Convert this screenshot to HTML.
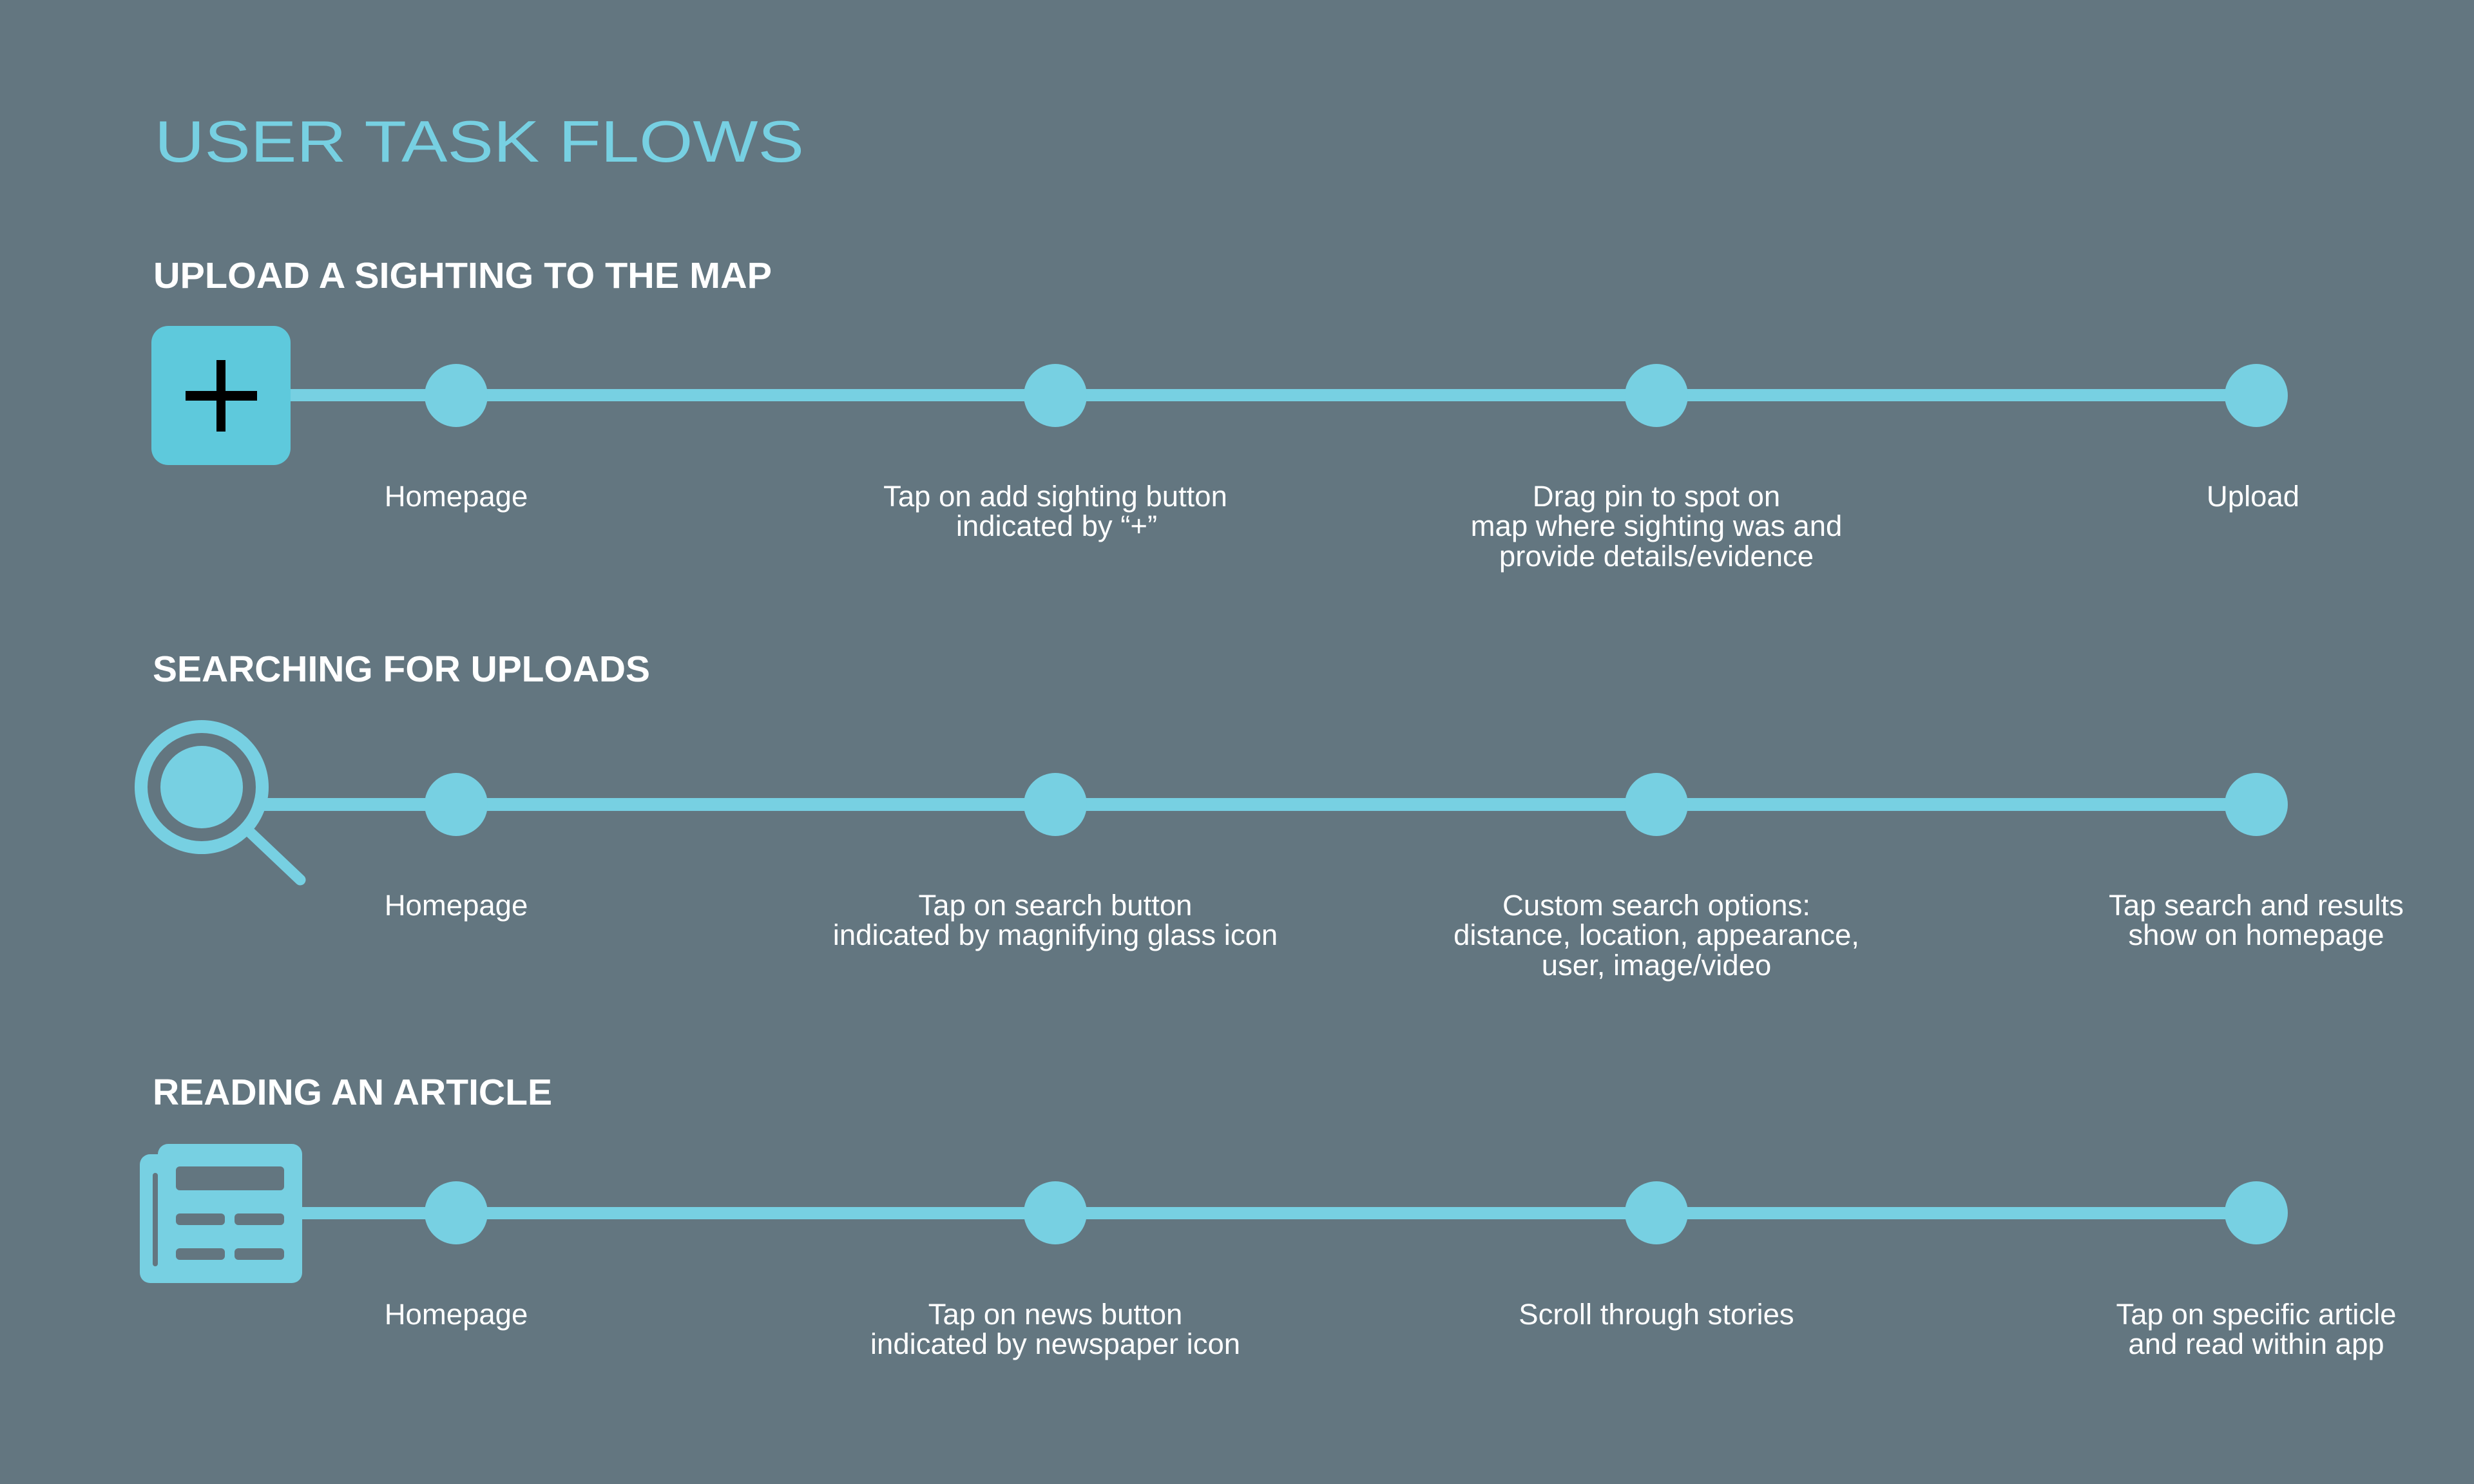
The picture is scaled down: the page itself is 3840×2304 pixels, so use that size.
<!DOCTYPE html>
<html><head><meta charset="utf-8"><style>
html,body{margin:0;padding:0;background:#637680;}
svg{display:block}
</style></head><body>
<svg width="3840" height="2304" viewBox="0 0 3840 2304" xmlns="http://www.w3.org/2000/svg">
<rect width="3840" height="2304" fill="#637680"/>
<text x="240" y="251" font-family="Liberation Sans, sans-serif" font-size="91" fill="#77d0e2" textLength="1008" lengthAdjust="spacingAndGlyphs">USER TASK FLOWS</text>

<g font-family="Liberation Sans, sans-serif" font-weight="bold" font-size="57" fill="#ffffff">
<text x="238" y="447" textLength="960" lengthAdjust="spacingAndGlyphs">UPLOAD A SIGHTING TO THE MAP</text>
<text x="237" y="1058" textLength="772" lengthAdjust="spacingAndGlyphs">SEARCHING FOR UPLOADS</text>
<text x="237" y="1715" textLength="620" lengthAdjust="spacingAndGlyphs">READING AN ARTICLE</text>
</g>

<!-- Row 1 -->
<rect x="451" y="604" width="3051" height="19" fill="#77d0e2"/>
<rect x="235" y="506" width="216" height="216" rx="26" fill="#5ec9dc"/>
<rect x="336" y="559" width="14" height="111" fill="#000"/>
<rect x="288" y="607" width="111" height="15" fill="#000"/>
<g fill="#77d0e2">
<circle cx="708" cy="614" r="49"/><circle cx="1638" cy="614" r="49"/><circle cx="2571" cy="614" r="49"/><circle cx="3502" cy="614" r="49"/>
</g>

<!-- Row 2 -->
<rect x="410" y="1239" width="3092" height="20" fill="#77d0e2"/>
<circle cx="313" cy="1222" r="94" fill="none" stroke="#77d0e2" stroke-width="20"/>
<circle cx="313" cy="1222" r="64" fill="#77d0e2"/>
<line x1="390" y1="1294" x2="466" y2="1366" stroke="#77d0e2" stroke-width="17" stroke-linecap="round"/>
<g fill="#77d0e2">
<circle cx="708" cy="1249" r="49"/><circle cx="1638" cy="1249" r="49"/><circle cx="2571" cy="1249" r="49"/><circle cx="3502" cy="1249" r="49"/>
</g>

<!-- Row 3 -->
<rect x="460" y="1874" width="3042" height="19" fill="#77d0e2"/>
<rect x="217" y="1792" width="60" height="200" rx="16" fill="#77d0e2"/>
<rect x="245" y="1776" width="224" height="216" rx="16" fill="#77d0e2"/>
<rect x="237" y="1821" width="8" height="145" rx="4" fill="#637680"/>
<g fill="#637680">
<rect x="273" y="1811" width="168" height="37" rx="6"/>
<rect x="273" y="1884" width="76" height="18" rx="6"/>
<rect x="364" y="1884" width="77" height="18" rx="6"/>
<rect x="273" y="1938" width="76" height="18" rx="6"/>
<rect x="364" y="1938" width="77" height="18" rx="6"/>
</g>
<g fill="#77d0e2">
<circle cx="708" cy="1883" r="49"/><circle cx="1638" cy="1883" r="49"/><circle cx="2571" cy="1883" r="49"/><circle cx="3502" cy="1883" r="49"/>
</g>

<g font-family="Liberation Sans, sans-serif" font-size="45.5" fill="#ffffff" text-anchor="middle">
<text x="708" y="786">Homepage</text>
<text x="1638" y="786">Tap on add sighting button</text>
<text x="1640" y="832">indicated by “+”</text>
<text x="2571" y="786">Drag pin to spot on</text>
<text x="2571" y="832">map where sighting was and</text>
<text x="2571" y="879">provide details/evidence</text>
<text x="3497" y="786">Upload</text>

<text x="708" y="1421">Homepage</text>
<text x="1638" y="1421">Tap on search button</text>
<text x="1638" y="1467">indicated by magnifying glass icon</text>
<text x="2571" y="1421">Custom search options:</text>
<text x="2571" y="1467">distance, location, appearance,</text>
<text x="2571" y="1514">user, image/video</text>
<text x="3502" y="1421">Tap search and results</text>
<text x="3502" y="1467">show on homepage</text>

<text x="708" y="2056">Homepage</text>
<text x="1638" y="2056">Tap on news button</text>
<text x="1638" y="2102">indicated by newspaper icon</text>
<text x="2571" y="2056">Scroll through stories</text>
<text x="3502" y="2056">Tap on specific article</text>
<text x="3502" y="2102">and read within app</text>
</g>
</svg>
</body></html>
